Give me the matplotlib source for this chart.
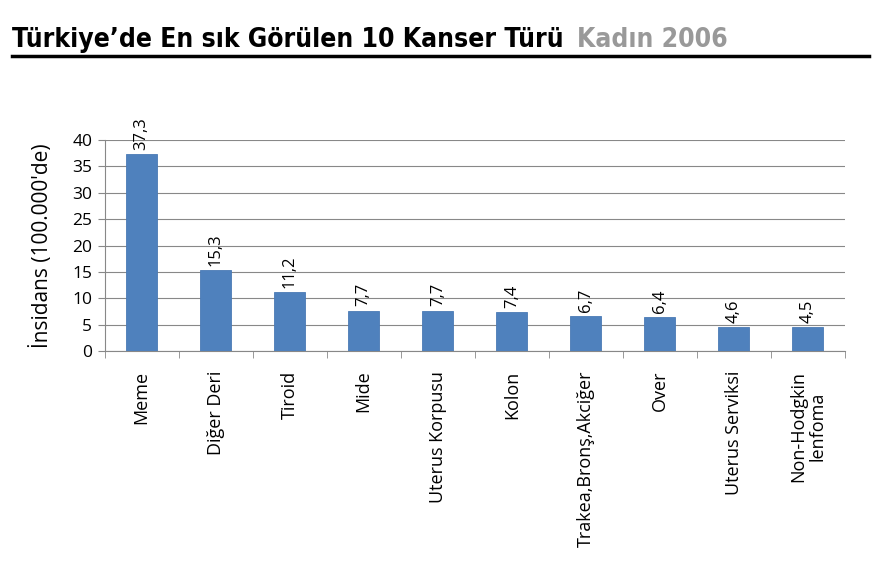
import matplotlib.pyplot as plt
import numpy as np

kategoriler = ["Meme", "Diğer Deri", "Tiroid", "Mide", "Uterus Korpusu", "Kolon",
               "Trakea,Bronş,Akciğer", "Over", "Uterus Serviksi", "Non-Hodgkin\nlenfoma"]
degerler = [37.3, 15.3, 11.2, 7.7, 7.7, 7.4, 6.7, 6.4, 4.6, 4.5]
y_ticks = [0, 5, 10, 15, 20, 25, 30, 35, 40]

plt.rcParams['font.family'] = ['Open Sans', 'DejaVu Sans']

fig = plt.figure(figsize=(8.8, 5.73), dpi=100)
ax = fig.add_axes([0.119, 0.387, 0.841, 0.369])

x = np.arange(len(kategoriler))
bars = ax.bar(x, degerler, width=0.42, color='#4F81BD', edgecolor='#4A7AB5', linewidth=0.6, zorder=3)

for xi, v in zip(x, degerler):
    ax.text(xi, v + 0.8, f"{v:.1f}".replace('.', ','), rotation=90, ha='center', va='bottom',
            fontsize=12, color='black')

ax.set_xlim(-0.5, len(kategoriler) - 0.5)
ax.set_ylim(0, 40)
ax.set_yticks(y_ticks)
ax.tick_params(axis='y', labelsize=12.5, length=5, color='#888888', pad=4)
ax.yaxis.grid(True, color='#888888', linewidth=0.8, zorder=0)

ax.set_xticks(x)
ax.set_xticklabels(kategoriler, rotation=90, fontsize=13, va='top', linespacing=1.1)
ax.tick_params(axis='x', length=0, pad=14)
ax.set_xticks(np.arange(-0.5, len(kategoriler), 1), minor=True)
ax.tick_params(axis='x', which='minor', length=5, color='#888888')

for s in ['top', 'right']:
    ax.spines[s].set_visible(False)
for s in ['left', 'bottom']:
    ax.spines[s].set_color('#888888')
    ax.spines[s].set_linewidth(0.8)

ax.set_ylabel("İnsidans (100.000'de)", fontsize=15, labelpad=14)

baslik = fig.text(0.014, 0.918, "Türkiye’de En sık Görülen 10 Kanser Türü", fontsize=19,
                  fontweight='bold', fontstretch='condensed', family='DejaVu Sans',
                  color='black', va='baseline')
fig.canvas.draw()
bb = baslik.get_window_extent()
fig.text(bb.x1 / 880 + 0.015, 0.918, "Kadın 2006", fontsize=19, fontweight='bold',
         fontstretch='condensed', family='DejaVu Sans', color='#999999', va='baseline')
fig.add_artist(plt.Line2D([0.014, 0.987], [0.903, 0.903], color='black', linewidth=2.5))

fig.savefig('out.png', dpi=100)
